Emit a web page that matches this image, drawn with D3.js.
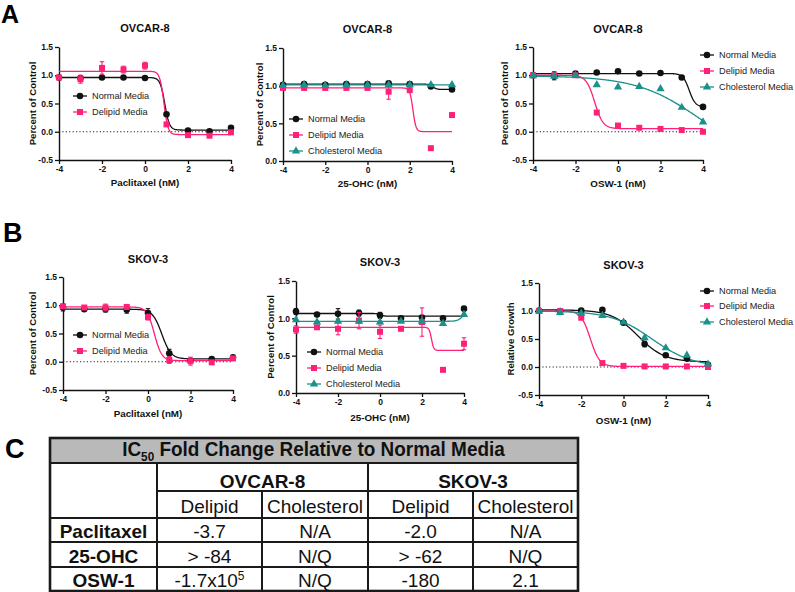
<!DOCTYPE html>
<html><head><meta charset="utf-8">
<script src="https://cdn.jsdelivr.net/npm/d3@7"></script>
<style>
body{margin:0;background:#fff}
text{font-family:"Liberation Sans",Arial,Helvetica,sans-serif}
</style>
</head><body>
<svg id="c" width="795" height="592"></svg>
<script>
// ---------------- DATA ----------------
const doses = [-4,-3,-2,-1,0,1,2,3,4];
const xTickValues = [-4,-2,0,2,4];
const seriesNames = ["Normal Media","Delipid Media","Cholesterol Media"];

// Panel A1: OVCAR-8 Paclitaxel
const a1Normal     = [0.96,0.95,0.96,0.96,0.95,0.31,0.02,0.01,0.07];
const a1NormalErr  = [0.02,0.02,0.01,0.01,0.01,0.03,0.02,0.01,0.02];
const a1Delipid    = [0.96,0.93,1.13,1.10,1.17,0.13,-0.06,-0.07,-0.01];
const a1DelipidErr = [0.02,0.07,0.11,0.06,0.06,0.03,0.02,0.02,0.02];
const a1Fits = [[0.96,0.03,0.92,4],[1.07,-0.05,0.88,4.5]]; // top, bottom, logIC50, hill

// Panel A2: OVCAR-8 25-OHC
const a2Normal     = [1.01,1.02,1.01,1.02,1.02,1.03,1.02,0.99,0.95];
const a2NormalErr  = [0.01,0.01,0.01,0.01,0.01,0.01,0.01,0.01,0.01];
const a2Delipid    = [0.97,0.97,0.97,0.97,0.97,0.92,0.94,0.17,0.61];
const a2DelipidErr = [0.01,0.01,0.01,0.01,0.01,0.10,0.02,0.01,0.01];
const a2Chol       = [1.00,1.01,1.00,1.01,1.01,1.01,1.01,1.01,1.01];
const a2CholErr    = [0.01,0.01,0.01,0.01,0.01,0.01,0.01,0.01,0.01];
const a2Fits = [[1.02,0.95,3.1,5],[0.97,0.39,2.15,6],[1.01,1.01,0,1]];

// Panel A3: OVCAR-8 OSW-1
const a3Normal     = [1.00,0.99,1.03,1.05,1.07,1.03,1.04,0.96,0.44];
const a3NormalErr  = [0.01,0.07,0.01,0.01,0.01,0.01,0.01,0.01,0.01];
const a3Delipid    = [1.00,1.00,1.00,0.34,0.11,0.07,0.05,0.03,0.00];
const a3DelipidErr = [0.01,0.01,0.01,0.01,0.01,0.01,0.01,0.01,0.01];
const a3Chol       = [0.99,0.98,1.00,0.83,0.79,0.80,0.76,0.43,0.17];
const a3CholErr    = [0.01,0.01,0.01,0.01,0.01,0.01,0.01,0.01,0.01];
const a3Fits = [[1.03,0.44,3.35,3],[1.0,0.055,-1.1,2.2],[0.99,-0.5,3.8,0.2955]];

// Panel B1: SKOV-3 Paclitaxel
const b1Normal     = [0.96,0.93,0.93,0.92,0.86,0.15,0.02,0.05,0.08];
const b1NormalErr  = [0.06,0.04,0.05,0.06,0.08,0.07,0.04,0.02,0.02];
const b1Delipid    = [0.98,0.96,0.96,0.97,0.79,0.03,0.01,-0.01,0.06];
const b1DelipidErr = [0.04,0.04,0.06,0.04,0.05,0.06,0.07,0.03,0.02];
const b1Fits = [[0.93,0.05,0.65,2],[0.97,0.02,0.3,2.5]];

// Panel B2: SKOV-3 25-OHC
const b2Normal     = [1.09,1.05,1.06,1.07,1.04,1.00,1.01,1.00,1.13];
const b2NormalErr  = [0.04,0.03,0.07,0.04,0.04,0.01,0.01,0.01,0.01];
const b2Delipid    = [0.85,0.88,0.86,0.97,0.82,0.86,0.95,0.31,0.66];
const b2DelipidErr = [0.05,0.02,0.08,0.11,0.09,0.02,0.19,0.03,0.08];
const b2Chol       = [0.98,0.95,0.96,0.96,0.95,0.96,0.96,0.93,1.05];
const b2CholErr    = [0.03,0.03,0.03,0.02,0.03,0.02,0.02,0.03,0.02];
const b2Fits = [[1.065,1.03,0.0,6],[0.88,0.57,2.45,8],[0.96,1.25,4.1,3]];

// Panel B3: SKOV-3 OSW-1
const b3Normal     = [1.01,1.00,1.01,1.02,0.79,0.41,0.21,0.15,0.04];
const b3NormalErr  = [0.01,0.01,0.01,0.03,0.02,0.05,0.02,0.03,0.02];
const b3Delipid    = [1.00,1.00,0.88,0.07,0.02,0.01,0.01,0.01,0.00];
const b3DelipidErr = [0.01,0.01,0.03,0.01,0.01,0.01,0.01,0.01,0.01];
const b3Chol       = [1.00,0.97,0.96,0.92,0.80,0.52,0.34,0.21,0.05];
const b3CholErr    = [0.01,0.01,0.01,0.01,0.01,0.03,0.02,0.03,0.02];
const b3Fits = [[1.02,0.09,0.686,0.695],[1.0,0.01,-1.57,2],[1.0,0.0,1.35,0.45]];

// Table C
const tableTitle = "Fold Change Relative to Normal Media";
const cellLines = ["OVCAR-8","SKOV-3"];
const mediaCols = ["Delipid","Cholesterol","Delipid","Cholesterol"];
const drugs = ["Paclitaxel","25-OHC","OSW-1"];
const foldValues = [
  ["-3.7","N/A","-2.0","N/A"],
  ["> -84","N/Q","> -62","N/Q"],
  ["-1.7x10|5","N/Q","-180","2.1"]
];

// ---------------- DRAWING ----------------
const colors = ["#111111","#ff2077","#1a918b"];
const symbols = [d3.symbolCircle, d3.symbolSquare, d3.symbolTriangle];
const symSizes = [34, 36, 30];
const svg = d3.select("#c");
const FONT = '"Liberation Sans",Arial,Helvetica,sans-serif';

const panels = [
  {title:"OVCAR-8", xlab:"Paclitaxel (nM)", ylab:"Percent of Control", xr:[59,231], yr:[160,47], yd:[-0.5,1.5],
   titleY:28, xlabY:183, ylabX:33, leg:[73,[96,112]],
   series:[[a1Normal,a1NormalErr,a1Fits[0]],[a1Delipid,a1DelipidErr,a1Fits[1]]]},
  {title:"OVCAR-8", xlab:"25-OHC (nM)", ylab:"Percent of Control", xr:[283,452], yr:[161,48], yd:[0,1.5],
   titleY:29, xlabY:184, ylabX:260, leg:[289,[119,135,151]],
   series:[[a2Normal,a2NormalErr,a2Fits[0]],[a2Delipid,a2DelipidErr,a2Fits[1]],[a2Chol,a2CholErr,a2Fits[2]]]},
  {title:"OVCAR-8", xlab:"OSW-1 (nM)", ylab:"Percent of Control", xr:[533,703], yr:[160,47], yd:[-0.5,1.5],
   titleY:29, xlabY:184, ylabX:505, leg:[700,[55,71,87]],
   series:[[a3Normal,a3NormalErr,a3Fits[0]],[a3Delipid,a3DelipidErr,a3Fits[1]],[a3Chol,a3CholErr,a3Fits[2]]]},
  {title:"SKOV-3", xlab:"Paclitaxel (nM)", ylab:"Percent of Control", xr:[63,233], yr:[390,277], yd:[-0.5,1.5],
   titleY:259, xlabY:414, ylabX:33, leg:[73,[335,351]],
   series:[[b1Normal,b1NormalErr,b1Fits[0]],[b1Delipid,b1DelipidErr,b1Fits[1]]]},
  {title:"SKOV-3", xlab:"25-OHC (nM)", ylab:"Percent of Control", xr:[296,464], yr:[393,281], yd:[0,1.5],
   titleY:262, xlabY:418, ylabX:271, leg:[307,[352,368,384]],
   series:[[b2Normal,b2NormalErr,b2Fits[0]],[b2Delipid,b2DelipidErr,b2Fits[1]],[b2Chol,b2CholErr,b2Fits[2]]]},
  {title:"SKOV-3", xlab:"OSW-1 (nM)", ylab:"Relative Growth", xr:[539,708], yr:[395,283], yd:[-0.5,1.5],
   titleY:265, xlabY:421, ylabX:511, leg:[700,[291,306,322]],
   series:[[b3Normal,b3NormalErr,b3Fits[0]],[b3Delipid,b3DelipidErr,b3Fits[1]],[b3Chol,b3CholErr,b3Fits[2]]]}
];

const fit4 = p => x => p[1] + (p[0]-p[1])/(1+Math.pow(10,(x-p[2])*p[3]));

panels.forEach(P => {
  const g = svg.append("g");
  const x = d3.scaleLinear().domain([-4,4]).range(P.xr);
  const y = d3.scaleLinear().domain(P.yd).range(P.yr);
  const yTicks = d3.range(P.yd[0], P.yd[1]+0.01, 0.5);

  if (P.yd[0] < 0) {
    g.append("line").attr("x1",x(-4)).attr("x2",x(4)).attr("y1",y(0)).attr("y2",y(0))
      .attr("stroke","#222").attr("stroke-width",1).attr("stroke-dasharray","1.2,2.2");
  }
  const ax = g.append("g").attr("transform",`translate(0,${P.yr[0]})`)
    .call(d3.axisBottom(x).tickValues(xTickValues).tickSize(4).tickSizeOuter(0).tickPadding(2).tickFormat(d=>String(d)));
  const ay = g.append("g").attr("transform",`translate(${P.xr[0]},0)`)
    .call(d3.axisLeft(y).tickValues(yTicks).tickSize(4).tickSizeOuter(0).tickPadding(2).tickFormat(d=>d.toFixed(1)));
  [ax,ay].forEach(a => {
    a.select(".domain").attr("stroke","#111").attr("stroke-width",1.4);
    a.selectAll(".tick line").attr("stroke","#111").attr("stroke-width",1.3);
    a.selectAll(".tick text").attr("fill","#111").style("font-family",FONT).style("font-size","8.5px").style("font-weight","bold");
  });
  const cx = (P.xr[0]+P.xr[1])/2;
  g.append("text").attr("x",cx).attr("y",P.titleY).attr("dy","0.35em").attr("text-anchor","middle")
    .style("font-size","11px").style("font-weight","bold").attr("fill","#111").text(P.title);
  g.append("text").attr("x",cx).attr("y",P.xlabY).attr("dy","0.35em").attr("text-anchor","middle")
    .style("font-size","9.8px").style("font-weight","bold").attr("fill","#111").text(P.xlab);
  const cy = (P.yr[0]+P.yr[1])/2;
  g.append("text").attr("transform",`translate(${P.ylabX},${cy}) rotate(-90)`).attr("dy","0.35em").attr("text-anchor","middle")
    .style("font-size","9.6px").style("font-weight","bold").attr("fill","#111").text(P.ylab);

  const xs = d3.range(0,401).map(i => -4 + i*8/400);
  P.series.forEach((s,i) => {
    const f = fit4(s[2]);
    g.append("path").datum(xs)
      .attr("d", d3.line().x(d=>x(d)).y(d=>y(f(d))))
      .attr("fill","none").attr("stroke",colors[i]).attr("stroke-width",1.3);
  });
  P.series.forEach((s,i) => {
    const vals = s[0], errs = s[1];
    const eg = g.append("g").attr("stroke",colors[i]).attr("stroke-width",1.1);
    doses.forEach((d,k) => {
      const e = errs[k];
      if (Math.abs(y(vals[k]-e)-y(vals[k]+e)) < 5) return;
      eg.append("line").attr("x1",x(d)).attr("x2",x(d)).attr("y1",y(vals[k]-e)).attr("y2",y(vals[k]+e));
      eg.append("line").attr("x1",x(d)-2.2).attr("x2",x(d)+2.2).attr("y1",y(vals[k]-e)).attr("y2",y(vals[k]-e));
      eg.append("line").attr("x1",x(d)-2.2).attr("x2",x(d)+2.2).attr("y1",y(vals[k]+e)).attr("y2",y(vals[k]+e));
    });
    g.append("g").selectAll("path").data(doses).join("path")
      .attr("transform",(d,k)=>`translate(${x(d)},${y(vals[k])})`)
      .attr("d", d3.symbol().type(symbols[i]).size(symSizes[i])())
      .attr("fill",colors[i]);
  });
  P.series.forEach((s,i) => {
    const lx = P.leg[0], ly = P.leg[1][i];
    g.append("line").attr("x1",lx).attr("x2",lx+14).attr("y1",ly).attr("y2",ly).attr("stroke",colors[i]).attr("stroke-width",1.3);
    g.append("path").attr("transform",`translate(${lx+7},${ly})`).attr("d",d3.symbol().type(symbols[i]).size(symSizes[i])()).attr("fill",colors[i]);
    g.append("text").attr("x",lx+19).attr("y",ly).attr("dy","0.35em").style("font-size","9.2px").attr("fill","#222").text(seriesNames[i]);
  });
});

[["A",1,23,25],["B",3,242,27],["C",5,458,27]].forEach(l => {
  svg.append("text").attr("x",l[1]).attr("y",l[2]).style("font-size",l[3]+"px").style("font-weight","bold").attr("fill","#000").text(l[0]);
});

// ---------------- TABLE ----------------
const colX = [50,157,262,368,473,578];
const rowY = [438,463,491,518,542,567,591];
const tg = svg.append("g");
tg.append("rect").attr("x",colX[0]).attr("y",rowY[0]).attr("width",colX[5]-colX[0]).attr("height",rowY[1]-rowY[0]).attr("fill","#b9b9b9");
const lineC = "#1a1a1a";
function L(x1,y1,x2,y2,w){ tg.append("line").attr("x1",x1).attr("y1",y1).attr("x2",x2).attr("y2",y2).attr("stroke",lineC).attr("stroke-width",w||2); }
L(colX[0],rowY[1],colX[5],rowY[1]);
L(colX[1],rowY[2],colX[5],rowY[2]);
[3,4,5].forEach(r => L(colX[0],rowY[r],colX[5],rowY[r]));
L(colX[1],rowY[1],colX[1],rowY[6]);
L(colX[3],rowY[1],colX[3],rowY[6]);
L(colX[2],rowY[2],colX[2],rowY[6]);
L(colX[4],rowY[2],colX[4],rowY[6]);
tg.append("rect").attr("x",colX[0]).attr("y",rowY[0]).attr("width",colX[5]-colX[0]).attr("height",rowY[6]-rowY[0])
  .attr("fill","none").attr("stroke",lineC).attr("stroke-width",2.6);

const hcx = 313.5;
const ht = tg.append("text").attr("x",hcx).attr("y",456).attr("text-anchor","middle")
  .style("font-size","21px").style("font-weight","bold").attr("fill","#111");
ht.append("tspan").text("IC");
ht.append("tspan").attr("dy",5).style("font-size","13px").text("50");
ht.append("tspan").attr("dy",-5).text(" " + tableTitle);
const hw = ht.node().getBBox().width;
const sx = 383 / hw;
ht.attr("transform",`translate(${hcx},0) scale(${sx},1) translate(${-hcx},0)`);

cellLines.forEach((c,i) => {
  tg.append("text").attr("x",(colX[1+2*i]+colX[3+2*i])/2).attr("y",488).attr("text-anchor","middle")
    .style("font-size","19px").style("font-weight","bold").attr("fill","#111").text(c);
});
mediaCols.forEach((m,i) => {
  tg.append("text").attr("x",(colX[1+i]+colX[2+i])/2).attr("y",513).attr("text-anchor","middle")
    .style("font-size","19px").attr("fill","#111").text(m);
});
const rowBase = [538,562.5,587];
drugs.forEach((d,r) => {
  tg.append("text").attr("x",(colX[0]+colX[1])/2).attr("y",rowBase[r]).attr("text-anchor","middle")
    .style("font-size","19px").style("font-weight","bold").attr("fill","#111").text(d);
  foldValues[r].forEach((v,i) => {
    const t = tg.append("text").attr("x",(colX[1+i]+colX[2+i])/2).attr("y",rowBase[r]).attr("text-anchor","middle")
      .style("font-size","19px").attr("fill","#111");
    if (v.includes("|")) {
      const parts = v.split("|");
      t.append("tspan").text(parts[0]);
      t.append("tspan").attr("dy",-7).style("font-size","12px").text(parts[1]);
    } else t.text(v);
  });
});
</script>
</body></html>
